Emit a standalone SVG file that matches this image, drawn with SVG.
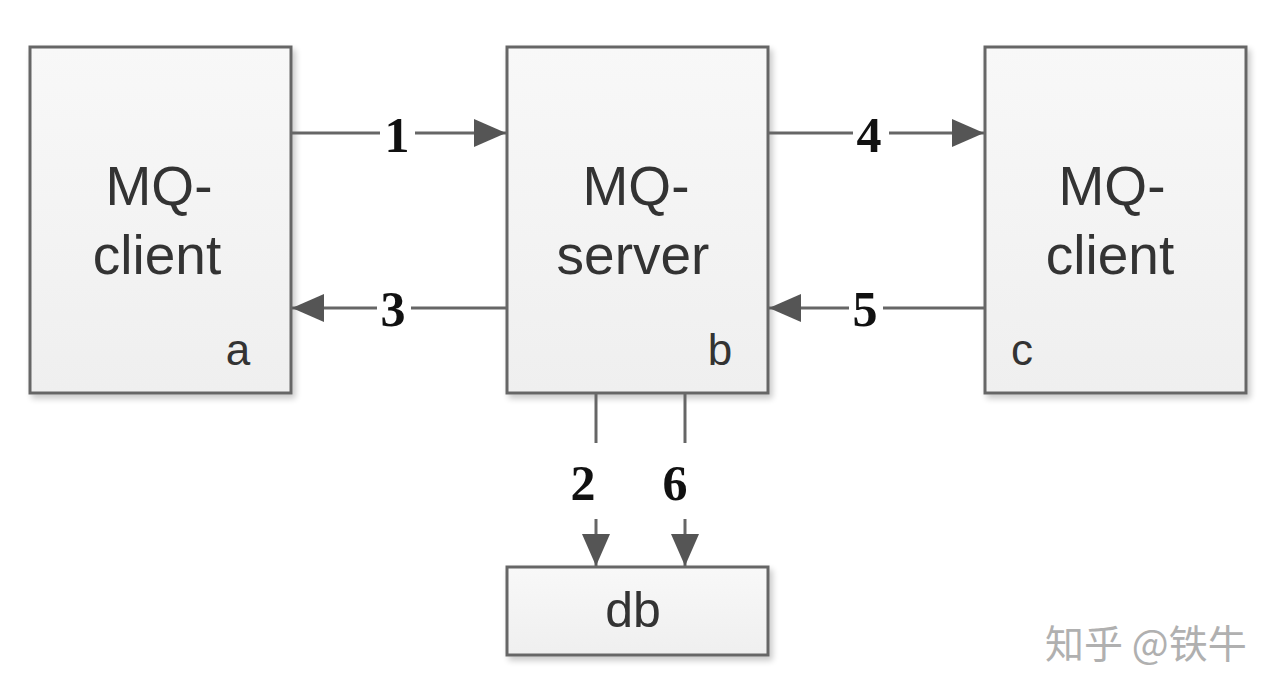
<svg xmlns="http://www.w3.org/2000/svg" width="1280" height="694" viewBox="0 0 1280 694">
<defs>
<linearGradient id="g" x1="0" y1="0" x2="0" y2="1">
<stop offset="0" stop-color="#f8f8f8"/>
<stop offset="1" stop-color="#efefef"/>
</linearGradient>
<filter id="sh" x="-10%" y="-10%" width="130%" height="130%">
<feGaussianBlur in="SourceAlpha" stdDeviation="3"/>
<feOffset dx="3" dy="4" result="o"/>
<feComponentTransfer><feFuncA type="linear" slope="0.22"/></feComponentTransfer>
<feMerge><feMergeNode/><feMergeNode in="SourceGraphic"/></feMerge>
</filter>
<marker id="ah" markerUnits="userSpaceOnUse" markerWidth="34" markerHeight="30" refX="32" refY="15" orient="auto">
<path d="M0,1 L32,15 L0,29 Z" fill="#555"/>
</marker>
</defs>
<style>
.box{fill:url(#g);stroke:#666;stroke-width:3;filter:url(#sh)}
.t{font-family:"Liberation Sans",Arial,sans-serif;fill:#333;text-anchor:middle}
.big{font-size:55px}
.sm{font-size:44px}
.ln{stroke:#666;stroke-width:3;fill:none}
.num{font-family:"Liberation Serif","Times New Roman",serif;font-weight:bold;font-size:50px;fill:#111;text-anchor:middle}
.wm{font-family:"Noto Sans CJK SC","Noto Sans",sans-serif;font-size:39px;fill:#b0b0b0}
</style>
<rect width="1280" height="694" fill="#ffffff"/>
<g id="node-a">
<rect class="box" x="30" y="47" width="261" height="346"/>
<text class="t big" x="159" y="205">MQ-</text>
<text class="t big" x="157" y="274">client</text>
<text class="t sm" x="238" y="365">a</text>
</g>
<g id="node-b">
<rect class="box" x="507" y="47" width="261" height="346"/>
<text class="t big" x="636" y="205">MQ-</text>
<text class="t big" x="633" y="274">server</text>
<text class="t sm" x="720" y="365">b</text>
</g>
<g id="node-c">
<rect class="box" x="985" y="47" width="261" height="346"/>
<text class="t big" x="1112" y="205">MQ-</text>
<text class="t big" x="1110" y="274">client</text>
<text class="t sm" x="1022" y="365">c</text>
</g>
<g id="node-db">
<rect class="box" x="507" y="567" width="261" height="88"/>
<text class="t" style="font-size:50px" x="633" y="627">db</text>
</g>
<g id="connectors">
<line class="ln" x1="291" y1="133" x2="380" y2="133"/>
<line class="ln" x1="415" y1="133" x2="506" y2="133" marker-end="url(#ah)"/>
<text class="num" x="397" y="152">1</text>
<line class="ln" x1="507" y1="308" x2="411" y2="308"/>
<line class="ln" x1="377" y1="308" x2="292" y2="308" marker-end="url(#ah)"/>
<text class="num" x="393" y="326">3</text>
<line class="ln" x1="768" y1="133" x2="853" y2="133"/>
<line class="ln" x1="889" y1="133" x2="984" y2="133" marker-end="url(#ah)"/>
<text class="num" x="869" y="152">4</text>
<line class="ln" x1="985" y1="308" x2="883" y2="308"/>
<line class="ln" x1="849" y1="308" x2="769" y2="308" marker-end="url(#ah)"/>
<text class="num" x="865" y="326">5</text>
<line class="ln" x1="596" y1="394" x2="596" y2="443"/>
<line class="ln" x1="596" y1="519" x2="596" y2="566" marker-end="url(#ah)"/>
<text class="num" x="583" y="500">2</text>
<line class="ln" x1="685" y1="394" x2="685" y2="443"/>
<line class="ln" x1="685" y1="519" x2="685" y2="566" marker-end="url(#ah)"/>
<text class="num" x="675" y="500">6</text>
</g>
<text class="wm" x="1045" y="658">知乎 @铁牛</text>
</svg>
